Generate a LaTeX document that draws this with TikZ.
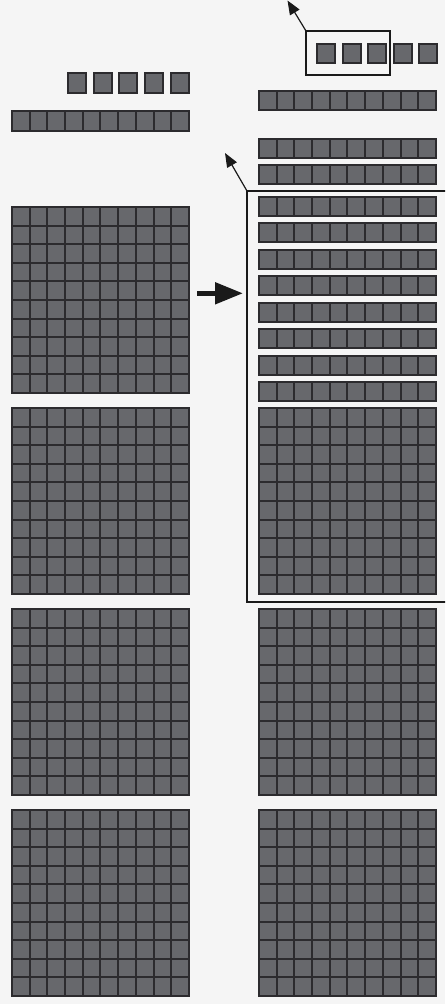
\documentclass[tikz,border=0pt]{standalone}
\usetikzlibrary{arrows.meta}
\definecolor{bg}{HTML}{F5F5F5}
\definecolor{cellfill}{HTML}{67686C}
\definecolor{celledge}{HTML}{2C2B2E}
\definecolor{ink}{HTML}{1A1A1A}
\begin{document}
\begin{tikzpicture}[x=1pt,y=-1pt,
  cell/.style={fill=cellfill,draw=celledge,line width=1.8pt},
  framebox/.style={draw=ink,line width=2pt},
  pointer/.style={draw=ink,line width=1.2pt,-{Triangle[length=14pt,width=11pt]}},
  bigarrow/.style={draw=ink,line width=5pt,-{Triangle[length=28pt,width=21pt]}}]
\fill[bg] (0,0) rectangle (445,1004);
\useasboundingbox (0,0) rectangle (445,1004);
\clip (0,0) rectangle (445,1004);
% ---------- left column ----------
% singles
\foreach \k in {0,...,4}
  \draw[cell] ({round(68+\k*25.65)},73) rectangle ({round(68+\k*25.65)+18},93);
% row of ten
\foreach \c in {0,...,9}
  \draw[cell] ({round(12+\c*17.7)},111) rectangle ({round(12+(\c+1)*17.7)},131);
% hundred blocks
\foreach \t in {207,408,609,810}
  \foreach \r in {0,...,9}
    \foreach \c in {0,...,9}
      \draw[cell] ({round(12+\c*17.7)},{round(\t+\r*18.6)}) rectangle ({round(12+(\c+1)*17.7)},{round(\t+(\r+1)*18.6)});
% ---------- right column ----------
% singles
\foreach \k in {0,...,4}
  \draw[cell] ({round(317+\k*25.6)},44) rectangle ({round(317+\k*25.6)+18},63);
% rows of ten
\foreach \t in {91,139,165,197,223,250,276,303,329,356,382}
  \foreach \c in {0,...,9}
    \draw[cell] ({round(259+\c*17.7)},\t) rectangle ({round(259+(\c+1)*17.7)},\t+19);
% hundred blocks
\foreach \t in {408,609,810}
  \foreach \r in {0,...,9}
    \foreach \c in {0,...,9}
      \draw[cell] ({round(259+\c*17.7)},{round(\t+\r*18.6)}) rectangle ({round(259+(\c+1)*17.7)},{round(\t+(\r+1)*18.6)});
% ---------- frames ----------
\coordinate (smallTL) at (306,31);
\coordinate (smallBR) at (390,75);
\coordinate (bigTL) at (247,191);
\coordinate (bigBR) at (452,602);
\draw[framebox] (smallTL) rectangle (smallBR);
\draw[framebox] (bigTL) rectangle (bigBR);
% ---------- arrows ----------
\coordinate (tip1) at (287.5,0.5);
\coordinate (tip2) at (225,153);
\coordinate (bigstart) at (197,293.3);
\coordinate (bigend) at (243,293.3);
\draw[pointer] (smallTL) -- (tip1);
\draw[pointer] (bigTL) -- (tip2);
\draw[bigarrow] (bigstart) -- (bigend);
\end{tikzpicture}
\end{document}
